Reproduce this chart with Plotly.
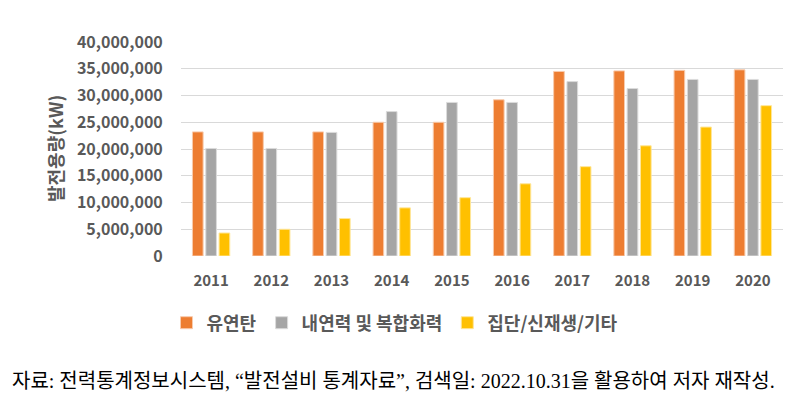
import plotly.graph_objects as go

years = ["2011", "2012", "2013", "2014", "2015", "2016", "2017", "2018", "2019", "2020"]
series_names = ["유연탄", "내연력 및 복합화력", "집단/신재생/기타"]
coal = [23200000, 23200000, 23200000, 25000000, 25000000, 29200000, 34500000, 34600000, 34700000, 34800000]
internal = [20100000, 20100000, 23100000, 27000000, 28700000, 28700000, 32600000, 31300000, 33000000, 33000000]
other = [4300000, 5000000, 7000000, 9000000, 10900000, 13500000, 16700000, 20600000, 24100000, 28100000]
colors = ["#ED7D31", "#A5A5A5", "#FFC000"]
edge_colors = ["#F8CBAD", "#DBDBDB", "#FFE699"]
y_ticks = [0, 5000000, 10000000, 15000000, 20000000, 25000000, 30000000, 35000000, 40000000]
y_title = "발전용량(kW)"
source_text = "자료: 전력통계정보시스템, “발전설비 통계자료”, 검색일: 2022.10.31을 활용하여 저자 재작성."

fig = go.Figure()
for name, vals, c, ec in zip(series_names, [coal, internal, other], colors, edge_colors):
    fig.add_trace(go.Bar(x=years, y=vals, name=name, marker=dict(color=c, line=dict(color=ec, width=1))))

font_main = "Noto Sans CJK KR"
W, H = 797, 406
ml, mr, mt, mb = 181, 14, 42, 150
pw = W - ml - mr
ph = H - mt - mb

fig.update_layout(
    width=W, height=H,
    margin=dict(l=ml, r=mr, t=mt, b=mb, autoexpand=False),
    paper_bgcolor="white", plot_bgcolor="white",
    barmode="group", bargap=0.336, bargroupgap=0.2,
    font=dict(family=font_main, color="#595959"),
    showlegend=True,
    legend=dict(orientation="h", x=(395 - ml) / pw, xanchor="center", y=(256 - 323) / ph, yanchor="middle",
                font=dict(size=18, family=font_main, weight="bold", color="#595959"),
                itemwidth=30, tracegroupgap=0, traceorder="normal"),
    xaxis=dict(showgrid=False, ticks="outside", ticklen=11, tickcolor="rgba(0,0,0,0)",
               tickfont=dict(size=15, family=font_main, weight="bold", color="#595959"),
               showline=False, zeroline=False),
    yaxis=dict(range=[0, 40000000], tickvals=y_ticks, tickformat=",", showgrid=True,
               gridcolor="#D9D9D9", gridwidth=1, zeroline=False, showline=False,
               ticks="outside", ticklen=14, tickcolor="rgba(0,0,0,0)",
               tickfont=dict(size=16, family=font_main, weight="bold", color="#595959")),
)

fig.add_annotation(x=(55 - ml) / pw, y=0.5, xref="paper", yref="paper", text=y_title,
                   textangle=-90, showarrow=False, xanchor="center", yanchor="middle",
                   font=dict(size=18, family=font_main, weight="bold", color="#595959"))
fig.add_annotation(x=(10 - ml) / pw, y=(256 - 381) / ph, xref="paper", yref="paper", text=source_text,
                   showarrow=False, xanchor="left", yanchor="middle",
                   font=dict(size=20, family="Liberation Serif, Noto Sans CJK KR", color="#000000"))

fig.write_html("out.html")
